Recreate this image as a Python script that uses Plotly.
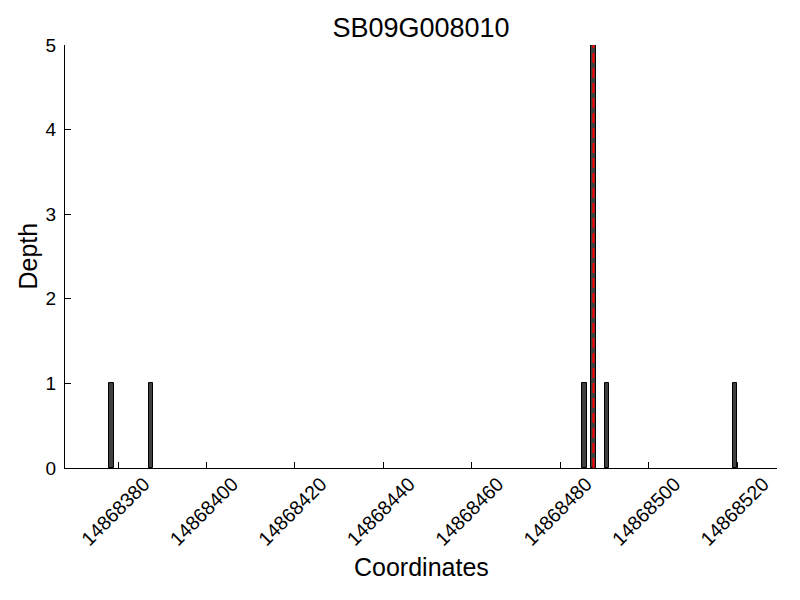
import plotly.graph_objects as go

positions = [14868378, 14868387, 14868485, 14868487, 14868490, 14868519]
depths = [1, 1, 1, 5, 1, 1]
marker_position = 14868487.5
title_text = "SB09G008010"
x_label = "Coordinates"
y_label = "Depth"
tick_vals = [14868380, 14868400, 14868420, 14868440, 14868460, 14868480, 14868500, 14868520]

L, R, T, B = 65, 23, 45, 132
W, H = 800, 600
pw, ph = W - L - R, H - T - B

fig = go.Figure()
fig.add_trace(go.Bar(
    x=positions, y=depths, offset=0, width=1,
    marker=dict(color="#404040", line=dict(color="black", width=1)),
    showlegend=False, hoverinfo="skip",
))
fig.add_shape(type="line", x0=marker_position, x1=marker_position, y0=0, y1=max(depths),
              xref="x", yref="y", line=dict(color="red", width=2, dash="10px,5px"))

font = "Liberation Sans, Arial, sans-serif"
fig.update_layout(
    width=W, height=H,
    margin=dict(l=L, r=R, t=T, b=B),
    plot_bgcolor="white", paper_bgcolor="white",
    font=dict(family=font, color="black"),
    title=dict(text=title_text, x=(L + W - R) / 2 / W, xanchor="center",
               y=1 - 28 / H, yanchor="middle", font=dict(size=27)),
    bargap=0,
    annotations=[
        dict(text=x_label, xref="paper", yref="paper", x=0.5, y=(H - B - 567) / ph,
             xanchor="center", yanchor="middle", showarrow=False, font=dict(size=25)),
        dict(text=y_label, xref="paper", yref="paper", x=(27 - L) / pw, y=0.5, textangle=-90,
             xanchor="center", yanchor="middle", showarrow=False, font=dict(size=25)),
    ],
)
fig.update_xaxes(
    range=[14868368, 14868529], tickvals=tick_vals, ticktext=[str(v) for v in tick_vals],
    tickangle=-45, tickfont=dict(size=19.5), ticks="inside", ticklen=6, tickcolor="black",
    ticklabelshift=26, ticklabelstandoff=-4,
    showline=True, linecolor="black", linewidth=1, showgrid=False, zeroline=False,
    automargin=False,
)
fig.update_yaxes(
    range=[0, 5], tickvals=[0, 1, 2, 3, 4, 5], tickfont=dict(size=19),
    ticks="inside", ticklen=6, tickcolor="black", ticklabelstandoff=4,
    showline=True, linecolor="black", linewidth=1, showgrid=False, zeroline=False,
    automargin=False,
)
fig.write_html("out.html", config={"displayModeBar": False},
               post_script="document.body.style.margin='0';")
